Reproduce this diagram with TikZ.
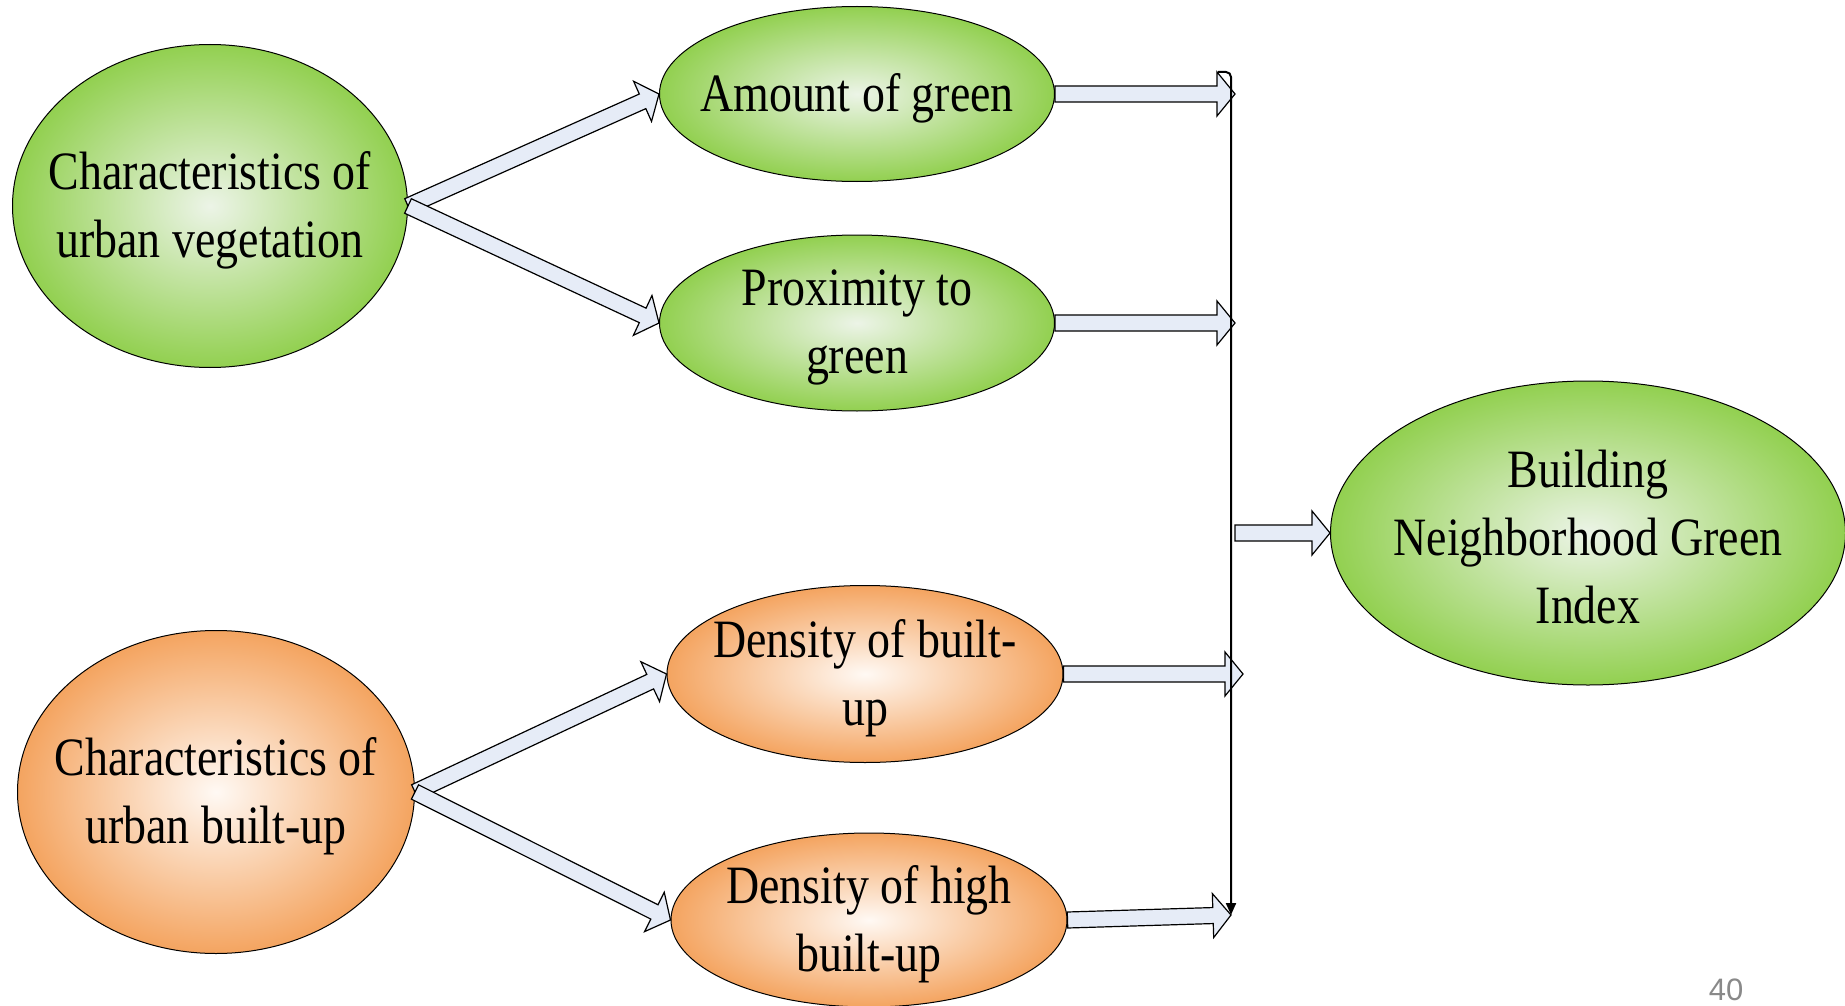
\documentclass[tikz,border=0pt]{standalone}
\usepackage{fontspec}
\setmainfont[FakeStretch=0.85]{Liberation Serif}
\newfontfamily\slidenumfont{Liberation Sans}
\usetikzlibrary{shapes.geometric}
\usetikzlibrary{calc}
\usetikzlibrary{arrows.meta}
\definecolor{leafgreen}{RGB}{146,208,80}
\definecolor{leafpale}{RGB}{236,244,231}
\definecolor{brickorange}{RGB}{244,164,96}
\definecolor{brickpale}{RGB}{255,249,244}
\definecolor{arrowblue}{RGB}{230,236,247}
\definecolor{slidegray}{RGB}{137,137,137}
\tikzstyle{factor}=[ellipse, draw, line width=1pt, inner sep=0]
\tikzstyle{green factor}=[factor, inner color=leafpale, outer color=leafgreen]
\tikzstyle{orange factor}=[factor, inner color=brickpale, outer color=brickorange]
\tikzstyle{factor text}=[align=center, yshift=-4pt, font=\fontsize{54}{68}\selectfont]
\tikzstyle{fat arrow}=[draw, fill=arrowblue, line width=1.2pt, line join=miter]
\tikzstyle{bus}=[line width=2pt, rounded corners=5pt]
\newcommand{\shaftw}{8pt}
\newcommand{\headw}{22pt}
\newcommand{\headl}{18pt}
\newcommand{\fatarrow}[2]{%
  \draw[fat arrow] ($(#1)!\shaftw!90:(#2)$)
    -- ($(#2)!\headl!(#1)!\shaftw!-90:(#1)$)
    -- ($(#2)!\headl!(#1)!\headw!-90:(#1)$)
    -- (#2)
    -- ($(#2)!\headl!(#1)!\headw!90:(#1)$)
    -- ($(#2)!\headl!(#1)!\shaftw!90:(#1)$)
    -- ($(#1)!\shaftw!-90:(#2)$)
    -- cycle;}

\begin{document}
\begin{tikzpicture}[x=1pt, y=-1pt]
      \useasboundingbox (0,0) rectangle (1845,1006);

      \node[green factor, minimum width=395pt, minimum height=323pt] (veg) at (210,206) {};
      \node[factor text] at (veg) {Characteristics of\\urban vegetation};

      \node[green factor, minimum width=395pt, minimum height=175pt] (amount) at (857,94) {};
      \node[factor text] at (amount) {Amount of green};

      \node[green factor, minimum width=395pt, minimum height=176pt] (prox) at (857,323) {};
      \node[factor text] at (prox) {Proximity to\\green};

      \node[green factor, minimum width=515pt, minimum height=304pt] (index) at (1588,533) {};
      \node[factor text] at (index) {Building\\Neighborhood Green\\Index};

      \node[orange factor, minimum width=397pt, minimum height=323pt] (built) at (216,792) {};
      \node[factor text] at (built) {Characteristics of\\urban built-up};

      \node[orange factor, minimum width=396pt, minimum height=177pt] (dense) at (865,674) {};
      \node[factor text] at (dense) {Density of built-\\up};

      \node[orange factor, minimum width=396pt, minimum height=174pt] (high) at (869,920) {};
      \node[factor text] at (high) {Density of high\\built-up};

      \coordinate (bus top) at (1231,72);
      \coordinate (bus end) at (1231,915);
      \coordinate (amount tip) at ($(bus top |- amount.east)+(4,0)$);
      \coordinate (prox tip) at ($(bus top |- prox.east)+(4,0)$);
      \coordinate (dense tip) at ($(bus top |- dense.east)+(12,0)$);
      \coordinate (index tail) at ($(bus top |- index.west)+(4,0)$);

      \fatarrow{veg.east}{amount.west}
      \fatarrow{veg.east}{prox.west}
      \fatarrow{built.east}{dense.west}
      \fatarrow{built.east}{high.west}
      \fatarrow{amount.east}{amount tip}
      \fatarrow{prox.east}{prox tip}
      \fatarrow{dense.east}{dense tip}
      \fatarrow{high.east}{bus end}
      \fatarrow{index tail}{index.west}

      \draw[bus, -{Triangle[width=10pt, length=12pt]}] ($(bus top)+(-13,0)$) -- (bus top) -- (bus end);

      \node[font=\slidenumfont\fontsize{31}{36}\selectfont, text=slidegray] (slide number) at (1726,990) {40};
    \end{tikzpicture}
\end{document}
